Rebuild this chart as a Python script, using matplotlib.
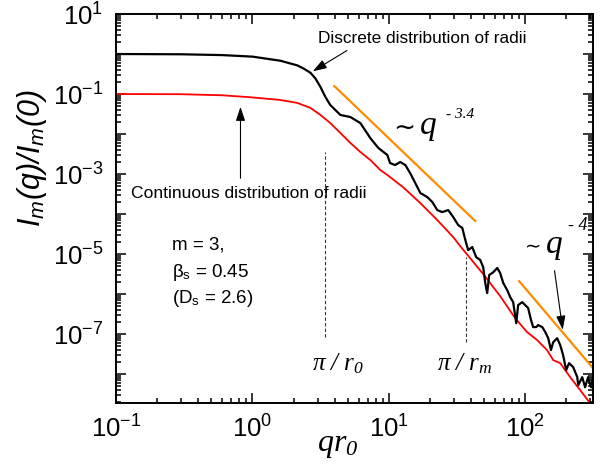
import numpy as np
import matplotlib
matplotlib.use('Agg')
import matplotlib.pyplot as plt
from matplotlib.ticker import FixedLocator, LogLocator, FuncFormatter, NullFormatter

plt.rcParams['font.family'] = 'Liberation Sans'
plt.rcParams['mathtext.fontset'] = 'custom'
plt.rcParams['mathtext.rm'] = 'Liberation Sans'
plt.rcParams['mathtext.it'] = 'Liberation Serif:italic'
plt.rcParams['mathtext.bf'] = 'Liberation Serif:italic'
plt.rcParams['mathtext.sf'] = 'Liberation Sans:italic'

# discrete distribution of radii (black)
disc_x = [0.1, 0.3, 0.6, 1.0, 1.6, 2.13, 2.38, 2.66, 2.89, 3.15, 3.42, 3.72, 4.41, 5.22,
          6.18, 7.31, 8.36,
          9.73, 10.2, 11.1, 12.1, 13.2, 14.3, 15.6, 17.0, 19.1, 20.8, 22.6, 24.6, 27.2,
          29.6, 32.2, 34.5, 36.3, 38.1, 40.8, 43.6, 46.7, 49.1, 50.8, 52.5, 54.3, 58.1,
          62.2, 65.4, 68.8, 73.6, 77.4, 81.4, 85.7, 88.5, 94.8, 99.7, 104.8, 110, 114,
          120, 124, 133, 140, 147, 154, 160, 171, 180, 189, 199, 209, 224, 240, 244,
          261, 274, 288, 303, 313]
disc_y = [1.0, 0.985, 0.94, 0.86, 0.68, 0.52, 0.43, 0.34, 0.246, 0.15, 0.085, 0.053,
          0.030, 0.0266, 0.0188,
          0.0079, 0.0045, 0.0030, 0.00188, 0.00168, 0.0020, 0.00168, 0.00106, 5.96e-4,
          3.35e-4, 2.66e-4, 2.0e-4, 1.26e-4, 1.12e-4, 1.26e-4, 8.4e-5, 5.3e-5, 4.5e-5,
          2.24e-5, 1.26e-5, 1.5e-5, 8.4e-6, 7.1e-6, 4.7e-6, 1.9e-6, 1.06e-6, 3.0e-6,
          3.5e-6, 4.5e-6, 3.35e-6, 1.9e-6, 1.26e-6, 8.4e-7, 6.3e-7, 1.88e-7, 5.3e-7,
          6.3e-7, 5.3e-7, 4.5e-7, 2.24e-7, 1.5e-7, 1.5e-7, 1.68e-7, 1.5e-7, 1.12e-7,
          7.9e-8, 4.0e-8, 6.3e-8, 7.9e-8, 5.3e-8, 3.0e-8, 1.26e-8, 1.88e-8, 1.5e-8,
          8.4e-9, 5.3e-9, 8.4e-9, 4.7e-9, 8.4e-9, 4.7e-9, 8.4e-9]

# continuous distribution of radii (red)
cont_x = [0.1, 0.3, 0.6, 0.97, 1.6, 2.13, 2.66, 3.15, 3.72, 4.41, 5.22, 6.18, 7.31, 8.65,
          9.73, 12.7, 17.0, 22.6, 29.6, 33.3, 39.4, 49.1, 65.4, 84.2, 103, 122, 144,
          160, 180, 213, 252, 298, 330]
cont_y = [0.1, 0.099, 0.093, 0.083, 0.071, 0.060, 0.045, 0.030, 0.0188, 0.0106, 0.006,
          0.00355, 0.00224, 0.00126, 0.00095, 4.7e-4, 1.88e-4, 7.1e-5, 2.66e-5, 1.58e-5,
          7.9e-6, 3.16e-6, 8.9e-7, 2.5e-7, 1.12e-7, 7.1e-8, 4.0e-8, 2.24e-8, 1.88e-8,
          8.4e-9, 4.0e-9, 1.88e-9, 1.1e-9]

# power-law guides
fit1_x = [3.98, 42.9]
fit1_y = [0.158, 6.7e-5]
fit2_x = [90.1, 313]
fit2_y = [2.1e-6, 1.41e-8]

# characteristic q values (pi/r0, pi/rm)
mark_x = [3.42, 36.9]
mark_ytop = [3.5e-3, 8.4e-6]
mark_ybot = [8.4e-8, 6.3e-8]

W, H = 608, 474
fig = plt.figure(figsize=(W / 100, H / 100), dpi=100)
ax = fig.add_axes([116 / W, 1 - 403 / H, (593 - 116) / W, (403 - 14) / H])


def fx(px):
    return px / W


def fy(py):
    return 1 - py / H


ax.plot(cont_x, cont_y, color='#ff0000', lw=1.3)
ax.plot(disc_x, disc_y, color='black', lw=1.6)
ax.plot(fit1_x, fit1_y, color='#ff8c00', lw=1.6)
ax.plot(fit2_x, fit2_y, color='#ff8c00', lw=1.6)
for xv, yt, yb in zip(mark_x, mark_ytop, mark_ybot):
    ax.plot([xv, xv], [yb, yt], color='#333333', lw=0.8, ls=(0, (3, 2)))

ax.set_xscale('log')
ax.set_yscale('log')
ax.set_xlim(0.1, 313)
ax.set_ylim(1.9e-9, 10)

ax.xaxis.set_major_locator(FixedLocator([0.1, 1, 10, 100]))
ax.xaxis.set_minor_locator(LogLocator(subs=np.arange(2, 10), numticks=20))
ax.yaxis.set_major_locator(FixedLocator([10.0 ** k for k in range(-8, 2)]))
ax.yaxis.set_minor_locator(LogLocator(subs=np.arange(2, 10), numticks=20))


def xfmt(v, pos):
    return r'$\mathdefault{10^{%d}}$' % int(round(np.log10(v)))


def yfmt(v, pos):
    k = int(round(np.log10(v)))
    if k % 2 == 0:
        return ''
    return r'$\mathdefault{10^{%d}}$' % k


ax.xaxis.set_major_formatter(FuncFormatter(xfmt))
ax.yaxis.set_major_formatter(FuncFormatter(yfmt))
ax.xaxis.set_minor_formatter(NullFormatter())
ax.yaxis.set_minor_formatter(NullFormatter())

ax.tick_params(which='both', direction='in', top=True, right=True, width=1.1)
ax.tick_params(which='major', length=7, labelsize=18.5, pad=9)
ax.tick_params(which='minor', length=3.5)
for sp in ax.spines.values():
    sp.set_linewidth(1.4)

# axis labels
fig.text(fx(32), fy(158), r'I$_{\mathsf{m}}$(q)/I$_{\mathsf{m}}$(0)', rotation=90,
         ha='center', va='center', fontsize=22, style='italic', family='Liberation Sans')
fig.text(fx(317), fy(451), r'qr$_{\mathbf{0}}$', fontsize=23, style='italic',
         family='Liberation Serif', va='baseline')

# annotations
fig.text(fx(318), fy(38.5), 'Discrete distribution of radii', fontsize=12.4, va='center')
fig.text(fx(131), fy(193), 'Continuous distribution of radii', fontsize=12.6, va='center')
arrow = dict(arrowstyle='-|>,head_length=0.6,head_width=0.2', color='black', lw=0.8,
             mutation_scale=14)
ax.annotate('', xy=(2.66, 0.34), xytext=(5.13, 1.33), arrowprops=arrow)
ax.annotate('', xy=(0.817, 0.056), xytext=(0.817, 6.7e-4), arrowprops=arrow)
ax.annotate('', xy=(189, 1.1e-7), xytext=(162.5, 4.5e-6), arrowprops=arrow)

fig.text(fx(172), fy(250), 'm = 3,', fontsize=13.5, va='baseline')
fig.text(fx(172), fy(277), r'β$_{\mathrm{s}}$ = 0.45', fontsize=13.5, va='baseline')
fig.text(fx(172), fy(303), r'(D$_{\mathrm{s}}$ = 2.6)', fontsize=13.5, va='baseline')

serif = dict(family='Liberation Serif', style='italic', va='baseline')
fig.text(fx(393), fy(128), '∼', fontsize=19, family='DejaVu Sans', va='center')
fig.text(fx(420), fy(134), 'q', fontsize=24, **serif)
fig.text(fx(446), fy(118), '- 3.4', fontsize=11, **serif)
fig.text(fx(525), fy(247), '∼', fontsize=14, family='DejaVu Sans', va='center')
fig.text(fx(546), fy(253), 'q', fontsize=24, **serif)
fig.text(fx(568), fy(230), '- 4', fontsize=13, **serif)
fig.text(fx(312), fy(370), r'π / r$_{\mathbf{0}}$', fontsize=18, **serif)
fig.text(fx(437), fy(370), r'π / r$_{\mathbf{m}}$', fontsize=18, **serif)

fig.savefig('out.png', dpi=100)
